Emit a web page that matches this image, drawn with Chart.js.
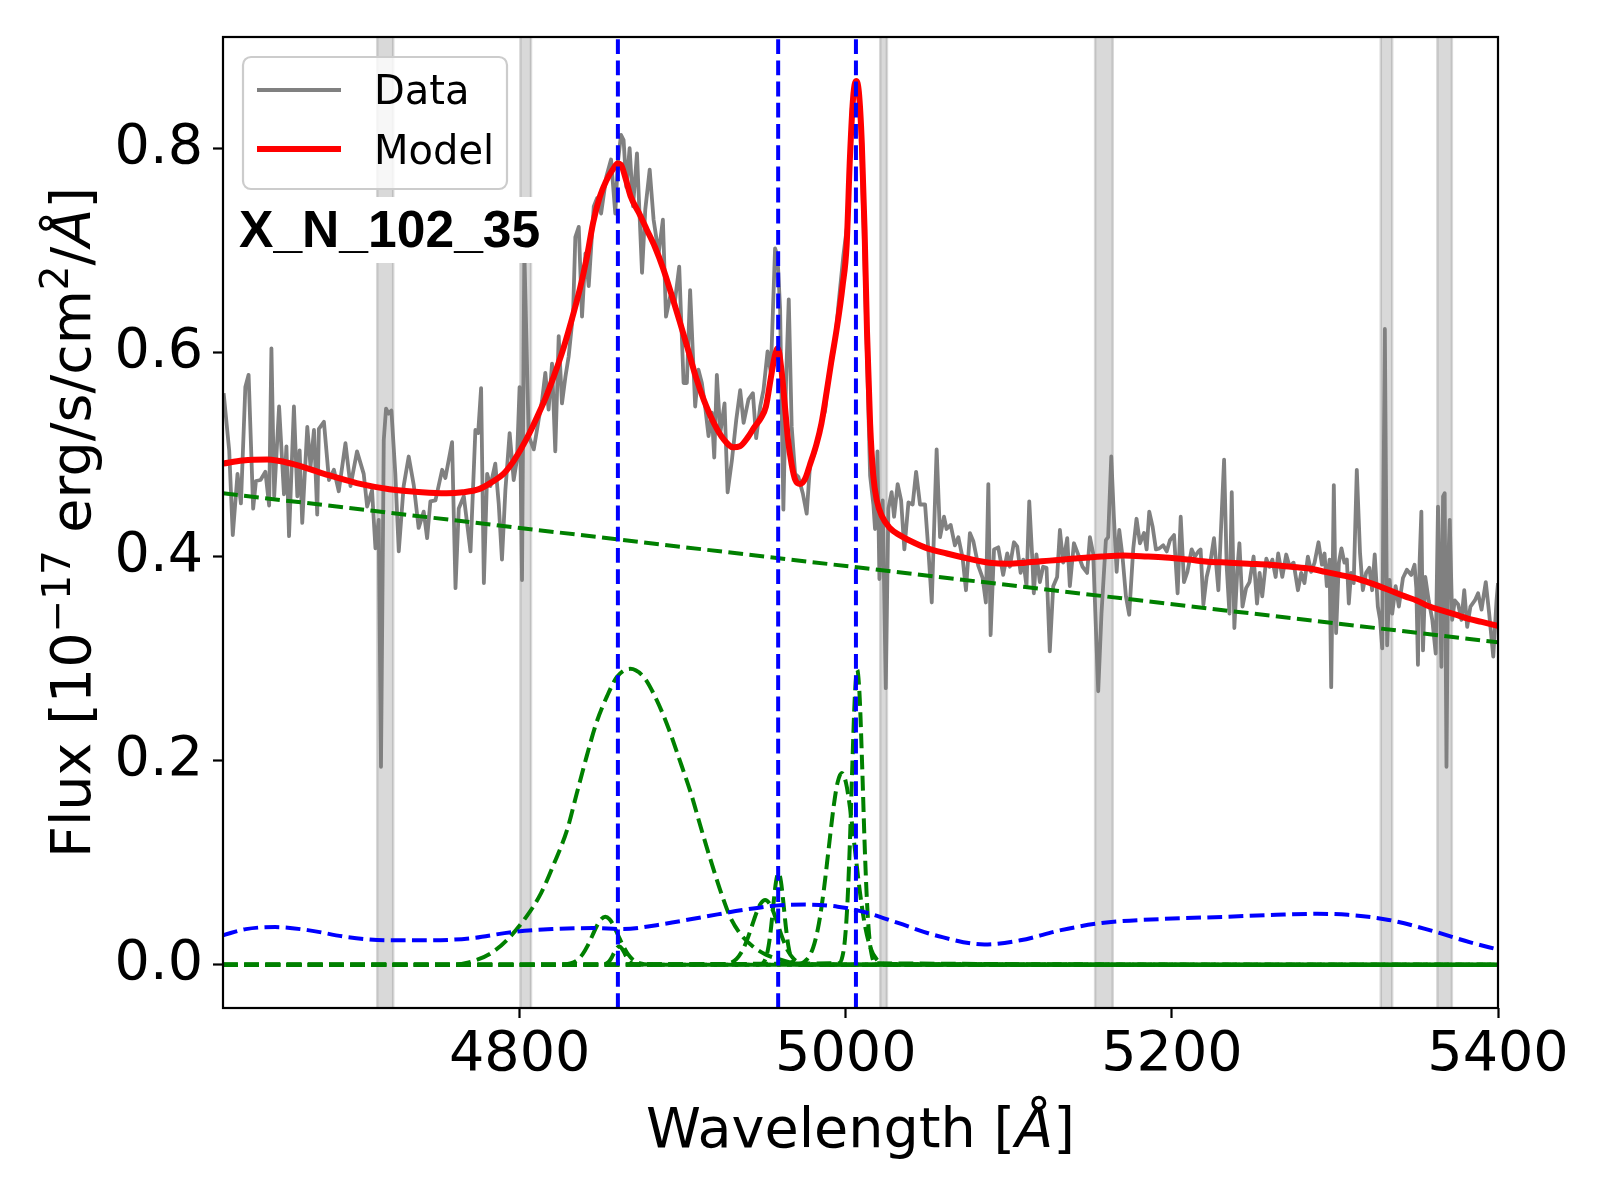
<!DOCTYPE html>
<html><head><meta charset="utf-8">
<script src="https://cdn.jsdelivr.net/npm/chart.js@4.4.1/dist/chart.umd.min.js"></script>
<style>html,body{margin:0;padding:0;background:#fff;}canvas{display:block;}</style>
</head><body>
<canvas id="c" width="1600" height="1200" style="width:1600px;height:1200px"></canvas>
<script>
// ---------------- axis ranges & ticks ----------------
const xMin = 4618, xMax = 5400, yMin = -0.0423, yMax = 0.909;
const xTicks = [4800, 5000, 5200, 5400];
const yTicks = [0.0, 0.2, 0.4, 0.6, 0.8];

// ---------------- observed spectrum ----------------
const dataWave = [4618.4,4621.8,4624.0,4626.9,4629.0,4631.7,4633.7,4636.5,4638.2,4641.0,4644.0,4646.3,4647.7,4649.4,4652.4,4655.4,4656.9,4658.5,4661.5,4663.6,4665.0,4666.6,4669.7,4671.7,4673.8,4675.8,4676.8,4679.9,4683.0,4686.0,4689.0,4693.1,4696.2,4700.2,4704.3,4706.4,4709.4,4711.5,4713.5,4714.9,4716.6,4718.0,4719.6,4721.3,4723.7,4725.8,4728.8,4731.9,4735.0,4738.0,4741.1,4743.2,4745.2,4748.3,4752.4,4754.4,4758.5,4760.6,4762.6,4765.7,4769.8,4772.8,4774.5,4776.3,4778.0,4780.0,
4782.0,4785.0,4787.1,4789.1,4791.2,4793.8,4796.3,4798.3,4799.9,4801.4,4802.8,4805.5,4808.6,4811.6,4813.7,4815.7,4817.7,4819.8,4821.8,4823.9,4825.9,4828.0,4830.0,4832.7,4834.1,4836.2,4838.2,4840.3,4842.3,4845.4,4847.4,4849.9,4853.1,4856.0,4858.6,4860.1,4862.1,4863.7,4865.4,4867.4,4869.5,4871.9,4875.0,4877.0,4879.7,4882.1,4885.2,4887.8,4889.7,4892.3,4895.0,4897.8,
4900.5,4902.5,4904.5,4907.6,4909.6,4911.7,4913.7,4915.8,4917.8,4919.3,4920.9,4923.0,4925.6,4927.5,4930.1,4932.8,4935.2,4937.3,4940.3,4943.0,4945.0,4947.5,4949.5,4952.0,4954.0,4956.6,4958.1,4959.7,4961.7,4963.4,4965.0,4966.8,4968.9,4970.9,4973.6,4976.0,4978.1,4980.1,
4981.2,4984.2,4987.3,4988.7,4990.4,4993.4,4995.5,4998.5,5001.0,5003.6,5006.3,5008.7,5010.8,5012.8,5014.9,5016.9,5017.9,5019.4,5020.6,5022.6,5024.5,5026.1,5028.1,5029.6,5031.8,5033.9,5035.9,5038.4,5041.0,5043.1,5045.5,5048.6,5050.6,5052.7,5055.7,5057.8,5060.2,5061.8,5064.3,5066.9,5069.0,5071.6,5073.7,5076.1,5078.2,5081.2,5083.9,5085.9,5087.4,5088.8,5090.9,5093.5,
5096.5,5099.0,5100.6,5103.1,5105.1,5107.2,5108.8,5110.8,5112.5,5114.3,5115.3,5116.9,5119.0,5121.0,5123.1,5125.1,5127.2,5129.6,5131.3,5133.3,5135.8,5137.4,5139.9,5142.5,5145.2,5148.0,5149.7,5151.7,5154.8,5156.8,5159.5,5160.9,5162.8,5164.4,5166.1,5167.7,5169.7,5171.8,5173.8,5176.3,5178.3,5180.4,5182.9,5184.5,5186.1,5188.2,5190.2,5192.3,5194.7,5196.8,5198.8,5201.3,5203.5,5205.4,5207.4,5209.5,5212.1,5214.1,5216.2,5217.6,5219.3,5221.3,5223.8,5225.8,5228.5,5229.9,5232.0,5233.6,5235.3,5236.7,5238.3,5240.2,5241.4,5243.3,5245.5,5247.6,
5250.1,5252.2,5253.8,5255.4,5257.9,5259.9,5261.6,5263.6,5265.2,5267.7,5270.1,5272.2,5274.6,5277.3,5279.3,5281.3,5283.4,5285.4,5287.5,5289.9,5292.0,5293.6,5295.0,5296.7,5297.7,5299.3,5300.7,5302.4,5304.0,5305.8,5307.3,5308.5,5309.9,5311.5,5313.4,5315.4,5317.1,5319.1,5321.1,5322.8,5324.4,5326.3,5327.7,5329.0,5330.6,5332.0,5333.5,5335.1,5337.2,5339.2,5341.7,5344.1,5346.8,5348.8,5349.9,5350.9,5351.9,5353.0,5354.0,5355.4,5357.5,5359.7,5361.8,5363.2,5364.2,5365.3,5366.3,5367.3,5368.4,5369.4,5370.4,5371.9,5373.5,5375.6,5377.6,5379.3,5381.1,5383.1,5385.8,5387.8,5389.9,5392.5,5394.6,5397.1,5399.1,5400.0];
const dataFlux = [0.560,0.504,0.421,0.481,0.452,0.566,0.578,0.447,0.474,0.475,0.483,0.450,0.604,0.459,0.547,0.461,0.508,0.420,0.547,0.459,0.504,0.433,0.527,0.488,0.524,0.441,0.525,0.532,0.475,0.485,0.464,0.511,0.469,0.503,0.481,0.449,0.465,0.408,0.436,0.194,0.514,0.545,0.540,0.543,0.481,0.405,0.469,0.498,0.470,0.428,0.444,0.418,0.454,0.455,0.485,0.477,0.512,0.369,0.447,0.459,0.405,0.524,0.521,0.565,0.374,0.481,
0.469,0.491,0.452,0.397,0.465,0.521,0.475,0.495,0.566,0.377,0.700,0.518,0.505,0.534,0.553,0.580,0.544,0.589,0.503,0.616,0.550,0.576,0.596,0.638,0.713,0.723,0.635,0.697,0.665,0.743,0.751,0.736,0.772,0.789,0.736,0.785,0.813,0.808,0.762,0.800,0.743,0.795,0.678,0.740,0.779,0.730,0.697,0.730,0.635,0.655,0.648,0.684,
0.570,0.570,0.661,0.547,0.583,0.570,0.547,0.518,0.541,0.497,0.578,0.521,0.550,0.463,0.494,0.534,0.563,0.531,0.554,0.560,0.516,0.547,0.563,0.601,0.580,0.702,0.694,0.642,0.446,0.576,0.652,0.527,0.481,0.478,0.462,0.442,0.491,0.498,
0.503,0.527,0.543,0.566,0.582,0.610,0.647,0.695,0.727,0.839,0.865,0.839,0.727,0.607,0.479,0.451,0.427,0.503,0.378,0.455,0.271,0.447,0.463,0.439,0.471,0.455,0.407,0.453,0.451,0.483,0.451,0.451,0.407,0.355,0.505,0.419,0.439,0.427,0.431,0.411,0.419,0.399,0.367,0.423,0.415,0.391,0.379,0.355,0.471,0.323,0.407,0.409,
0.382,0.403,0.390,0.414,0.410,0.384,0.397,0.371,0.454,0.400,0.364,0.402,0.375,0.390,0.389,0.307,0.371,0.380,0.426,0.394,0.418,0.371,0.413,0.402,0.390,0.384,0.419,0.403,0.268,0.344,0.416,0.419,0.498,0.439,0.385,0.426,0.400,0.361,0.343,0.408,0.437,0.413,0.423,0.407,0.444,0.429,0.407,0.408,0.411,0.405,0.416,0.421,0.364,0.439,0.375,0.385,0.407,0.400,0.405,0.407,0.353,0.380,0.397,0.418,0.367,0.419,0.495,0.390,0.344,0.463,0.330,0.389,0.413,0.351,0.369,0.375,
0.400,0.354,0.384,0.361,0.398,0.390,0.397,0.380,0.403,0.380,0.402,0.390,0.394,0.367,0.384,0.374,0.400,0.385,0.394,0.414,0.392,0.403,0.371,0.397,0.272,0.470,0.325,0.394,0.408,0.394,0.397,0.354,0.384,0.374,0.485,0.403,0.367,0.384,0.389,0.367,0.402,0.351,0.338,0.310,0.623,0.313,0.377,0.344,0.371,0.351,0.379,0.387,0.382,0.392,0.369,0.294,0.394,0.444,0.308,0.380,0.357,0.338,0.305,0.449,0.377,0.292,0.459,0.462,0.194,0.390,0.436,0.338,0.357,0.353,0.338,0.367,0.331,0.351,0.357,0.364,0.348,0.375,0.344,0.302,0.357,0.374];

// ---------------- total model ----------------
const modelWave = [4618,4630,4645,4660,4680,4700,4720,4740,4755,4765,4775,4783,4790,4796,4801,4806,4811,4816,4821,4826,4831,4837,4841,4845,4849,4853,4857,4860,4862,4865,4868,4873,4878,4883,4888,4893,4898,4903,4908,4913,4919,4925,4931,4935,4940,4944,4948,4951,4954,4956.5,4958.3,4960.5,4962.5,4964.5,4966.8,4969,4972,4975,4978,4982,4985,4988.3,4991,4994.5,4998,5000.5,5002.5,5004.5,5006.3,5008,5009.8,5011.5,5013,5014.9,5016.8,5019,5022,5027,5033,5040,5050,5062,5075,5088,5100,5110,5125,5140,5157,5170,5185,5196,5210,5222,5235,5247,5260,5273,5285,5294,5303,5312,5320,5327,5335,5343,5350,5358,5366,5374,5382,5390,5400];
const modelFlux = [0.491,0.494,0.495,0.491,0.481,0.472,0.466,0.463,0.462,0.463,0.466,0.473,0.481,0.493,0.506,0.521,0.538,0.556,0.577,0.600,0.627,0.663,0.692,0.727,0.752,0.768,0.779,0.785,0.784,0.770,0.753,0.737,0.720,0.703,0.682,0.657,0.631,0.604,0.576,0.553,0.531,0.515,0.507,0.508,0.517,0.527,0.536,0.547,0.575,0.597,0.604,0.583,0.550,0.515,0.490,0.475,0.471,0.476,0.490,0.510,0.530,0.562,0.590,0.624,0.665,0.705,0.790,0.850,0.866,0.855,0.805,0.720,0.620,0.530,0.480,0.455,0.440,0.428,0.421,0.415,0.408,0.403,0.398,0.394,0.393,0.394,0.396,0.398,0.400,0.401,0.400,0.399,0.397,0.395,0.394,0.393,0.392,0.390,0.388,0.385,0.382,0.379,0.375,0.371,0.366,0.361,0.357,0.351,0.347,0.343,0.339,0.336,0.332];

// ---------------- power-law continuum ----------------
const contWave = [4618, 5400];
const contFlux = [0.462, 0.316];

// ---------------- Fe II template ----------------
const feWave = [4618,4632,4650,4670,4695,4720,4745,4770,4795,4820,4845,4863,4888,4913,4938,4957,4976,4995,5013,5032,5057,5085,5107,5132,5157,5195,5232,5264,5289,5308,5333,5358,5383,5400];
const feFlux = [0.029,0.035,0.037,0.034,0.027,0.024,0.024,0.026,0.032,0.035,0.036,0.035,0.040,0.047,0.054,0.058,0.059,0.057,0.051,0.041,0.028,0.020,0.024,0.034,0.041,0.045,0.047,0.049,0.050,0.049,0.044,0.034,0.022,0.015];

// ---------------- line components ----------------
const hbBroadWave = [4618,4760,4768,4782,4792,4804,4813,4821,4829,4835,4841,4847,4853.5,4859.6,4867.8,4876,4882,4890,4898,4905,4911,4917,4923,4929,4935,4943,4951,4960,4975,5400];
const hbBroadFlux = [0,0,0.002,0.011,0.024,0.047,0.070,0.099,0.132,0.168,0.204,0.237,0.263,0.282,0.290,0.282,0.266,0.237,0.201,0.168,0.135,0.103,0.073,0.047,0.031,0.018,0.010,0.005,0,0];
const hbWingWave = [4618,4826,4831,4835,4838.5,4841.5,4844.5,4847.5,4850,4852.5,4855,4857.5,4860.5,4863.5,4866.5,4870,4874,4879,5400];
const hbWingFlux = [0,0.0002,0.0013,0.0043,0.0102,0.0183,0.0285,0.0387,0.0448,0.047,0.0448,0.0387,0.0285,0.0183,0.0102,0.0043,0.0013,0.0002,0];
const hbNarrowWave = [4618,4850,4852,4853.5,4855,4856.5,4858,4859.5,4861,4862.5,4864,4865.5,4867,4868.5,4870,4872,5400];
const hbNarrowFlux = [0,0.0001,0.0005,0.0016,0.0038,0.0075,0.0122,0.0163,0.018,0.0163,0.0122,0.0075,0.0038,0.0016,0.0005,0.0001,0];
const o3aWingWave = [4618,4924,4929,4933,4936.5,4939.5,4942.5,4945.5,4948,4950.5,4953,4955.5,4958.5,4961.5,4964.5,4968,4972,4977,5400];
const o3aWingFlux = [0,0.0003,0.0017,0.0058,0.0137,0.0247,0.0385,0.0523,0.0605,0.0635,0.0605,0.0523,0.0385,0.0247,0.0137,0.0058,0.0017,0.0003,0];
const o3aNarrowWave = [4618,4947.7,4949.7,4951.2,4952.7,4954.2,4955.7,4957.2,4958.7,4960.2,4961.7,4963.2,4964.7,4966.2,4967.7,4969.7,5400];
const o3aNarrowFlux = [0,0.0005,0.0027,0.0079,0.019,0.0374,0.061,0.0816,0.090,0.0816,0.061,0.0374,0.019,0.0079,0.0027,0.0005,0];
const o3bWingWave = [4618,4971,4976,4980,4983.5,4986.5,4989.5,4992.5,4995,4997.5,5000,5002.5,5005.5,5008.5,5011.5,5015,5019,5024,5400];
const o3bWingFlux = [0,0.0008,0.0051,0.0171,0.0406,0.0731,0.1141,0.1547,0.179,0.188,0.179,0.1547,0.1141,0.0731,0.0406,0.0171,0.0051,0.0008,0];
const o3bNarrowWave = [4618,4996,4998,4999.5,5001,5002.5,5004,5005.5,5007,5008.5,5010,5011.5,5013,5014.5,5016,5018,5400];
const o3bNarrowFlux = [0,0.0015,0.0087,0.0254,0.061,0.120,0.196,0.262,0.289,0.262,0.196,0.120,0.061,0.0254,0.0087,0.0015,0];

// ---------------- line centres & masked regions ----------------
const lineCenters = [4860.2, 4958.5, 5006.2];
const maskStart = [4712.6, 4800.4, 5021.1, 5152.9, 5328.1, 5362.8];
const maskEnd   = [4722.4, 4806.9, 5025.2, 5163.7, 5335.1, 5371.7];

const objectName = 'X_N_102_35';

// ---------------- build datasets ----------------
const pts = (w, f) => w.map((x, i) => ({x: x, y: f[i]}));
const DASH = [14.8, 6.4];
const datasets = [];
datasets.push({label:'Data', data: pts(dataWave, dataFlux), borderColor:'#808080', borderWidth:3.8, showLine:true, pointRadius:0, tension:0, order:20, borderJoinStyle:'round'});
datasets.push({label:'Model', data: pts(modelWave, modelFlux), borderColor:'#ff0000', borderWidth:6, showLine:true, pointRadius:0, cubicInterpolationMode:'monotone', order:19, borderJoinStyle:'round'});
datasets.push({label:'cont', data: pts(contWave, contFlux), borderColor:'#008000', borderWidth:4, borderDash:DASH, showLine:true, pointRadius:0, order:18});
[[hbBroadWave,hbBroadFlux],[hbWingWave,hbWingFlux],[hbNarrowWave,hbNarrowFlux],[o3aWingWave,o3aWingFlux],[o3aNarrowWave,o3aNarrowFlux],[o3bWingWave,o3bWingFlux],[o3bNarrowWave,o3bNarrowFlux]].forEach((c, k) => {
  datasets.push({label:'comp'+k, data: pts(c[0], c[1]), borderColor:'#008000', borderWidth:4, borderDash:DASH, showLine:true, pointRadius:0, cubicInterpolationMode:'monotone', order:17});
});
datasets.push({label:'feii', data: pts(feWave, feFlux), borderColor:'#0000ff', borderWidth:4, borderDash:DASH, showLine:true, pointRadius:0, cubicInterpolationMode:'monotone', order:10});
lineCenters.forEach((c, k) => {
  datasets.push({label:'vline'+k, data:[{x:c, y:yMin},{x:c, y:yMax}], borderColor:'#0000ff', borderWidth:4, borderDash:DASH, showLine:true, pointRadius:0, order:5});
});

// ---------------- decorations ----------------
function drawRich(ctx, parts, cx, by) {
  let total = 0;
  parts.forEach(p => { ctx.font = (p.it ? 'italic ' : '') + p.s + 'px "DejaVu Sans"'; p.w = ctx.measureText(p.t).width; total += p.w; });
  let x = cx - total / 2;
  parts.forEach(p => { ctx.font = (p.it ? 'italic ' : '') + p.s + 'px "DejaVu Sans"'; ctx.fillText(p.t, x, by + (p.dy || 0)); x += p.w; });
}

const decor = {
  id: 'decor',
  beforeDatasetsDraw(chart) {
    const {ctx, chartArea: a, scales} = chart;
    const xs = scales.x;
    ctx.save();
    ctx.beginPath(); ctx.rect(a.left, a.top, a.right - a.left, a.bottom - a.top); ctx.clip();
    maskStart.forEach((s, i) => {
      const x0 = xs.getPixelForValue(s), x1 = xs.getPixelForValue(maskEnd[i]);
      ctx.fillStyle = 'rgba(128,128,128,0.3)';
      ctx.fillRect(x0, a.top, x1 - x0, a.bottom - a.top);
      ctx.strokeStyle = 'rgba(128,128,128,0.3)'; ctx.lineWidth = 2.5;
      ctx.beginPath(); ctx.moveTo(x0, a.top); ctx.lineTo(x0, a.bottom); ctx.moveTo(x1, a.top); ctx.lineTo(x1, a.bottom); ctx.stroke();
    });
    ctx.restore();
  },
  afterDatasetsDraw(chart) {
    const {ctx} = chart;
    ctx.save();
    // object name label with white box
    ctx.fillStyle = '#ffffff';
    ctx.fillRect(229, 197, 322, 66);
    ctx.fillStyle = '#000';
    ctx.font = 'bold 51.6px "Liberation Sans"';
    ctx.textBaseline = 'alphabetic'; ctx.textAlign = 'left';
    ctx.fillText(objectName, 239, 246.5);
    // legend
    const lx = 243, ly = 57, lw = 264, lh = 132, r = 8;
    ctx.beginPath();
    ctx.moveTo(lx + r, ly); ctx.lineTo(lx + lw - r, ly); ctx.arcTo(lx + lw, ly, lx + lw, ly + r, r);
    ctx.lineTo(lx + lw, ly + lh - r); ctx.arcTo(lx + lw, ly + lh, lx + lw - r, ly + lh, r);
    ctx.lineTo(lx + r, ly + lh); ctx.arcTo(lx, ly + lh, lx, ly + lh - r, r);
    ctx.lineTo(lx, ly + r); ctx.arcTo(lx, ly, lx + r, ly, r); ctx.closePath();
    ctx.fillStyle = 'rgba(255,255,255,0.8)'; ctx.fill();
    ctx.strokeStyle = '#cccccc'; ctx.lineWidth = 2.2; ctx.stroke();
    ctx.lineCap = 'butt';
    ctx.strokeStyle = '#808080'; ctx.lineWidth = 4;
    ctx.beginPath(); ctx.moveTo(257, 90); ctx.lineTo(341, 90); ctx.stroke();
    ctx.strokeStyle = '#ff0000'; ctx.lineWidth = 6;
    ctx.beginPath(); ctx.moveTo(257, 149); ctx.lineTo(341, 149); ctx.stroke();
    ctx.fillStyle = '#000'; ctx.font = '40px "DejaVu Sans"';
    ctx.fillText('Data', 374, 104);
    ctx.fillText('Model', 374, 164);
    ctx.restore();
  },
  afterDraw(chart) {
    const {ctx, chartArea: a} = chart;
    ctx.save();
    ctx.strokeStyle = '#000'; ctx.lineWidth = 2.2;
    ctx.strokeRect(a.left, a.top, a.right - a.left, a.bottom - a.top);
    ctx.fillStyle = '#000'; ctx.textBaseline = 'alphabetic'; ctx.textAlign = 'left';
    // x title
    drawRich(ctx, [{t:'Wavelength [', s:55.6}, {t:'Å', s:55.6, it:true}, {t:']', s:55.6}], (a.left + a.right) / 2, 1146.5);
    // y title
    ctx.translate(89.5, (a.top + a.bottom) / 2);
    ctx.rotate(-Math.PI / 2);
    drawRich(ctx, [{t:'Flux [10', s:55.6}, {t:'\u221217', s:38.9, dy:-20}, {t:' erg/s/cm', s:55.6}, {t:'2', s:38.9, dy:-22}, {t:'/', s:55.6}, {t:'Å', s:55.6, it:true}, {t:']', s:55.6}], 0, 0);
    ctx.restore();
  }
};

Chart.defaults.font.family = '"DejaVu Sans"';
new Chart(document.getElementById('c'), {
  type: 'scatter',
  data: { datasets: datasets },
  plugins: [decor],
  options: {
    responsive: false, animation: false, devicePixelRatio: 1,
    layout: { padding: { left: 0, right: 102, top: 37, bottom: 0 } },
    plugins: { legend: { display: false }, tooltip: { enabled: false } },
    elements: { line: { clip: 0 } },
    scales: {
      x: {
        type: 'linear', min: xMin, max: xMax,
        afterBuildTicks: s => { s.ticks = xTicks.map(v => ({value: v})); },
        afterFit: s => { s.height = 192; s.paddingLeft = 0; s.paddingRight = 0; },
        ticks: { font: { size: 55.6 }, color: '#000', padding: 4, maxRotation: 0, autoSkip: false, callback: v => String(v) },
        grid: { drawOnChartArea: false, drawTicks: true, tickLength: 10, tickWidth: 2.2, tickColor: '#000' },
        border: { display: false }
      },
      y: {
        type: 'linear', min: yMin, max: yMax,
        afterBuildTicks: s => { s.ticks = yTicks.map(v => ({value: v})); },
        afterFit: s => { s.width = 223; s.paddingTop = 0; s.paddingBottom = 0; },
        ticks: { font: { size: 55.6 }, color: '#000', padding: 10, autoSkip: false, callback: v => Number(v).toFixed(1) },
        grid: { drawOnChartArea: false, drawTicks: true, tickLength: 10, tickWidth: 2.2, tickColor: '#000' },
        border: { display: false }
      }
    }
  }
});
</script>
</body></html>
